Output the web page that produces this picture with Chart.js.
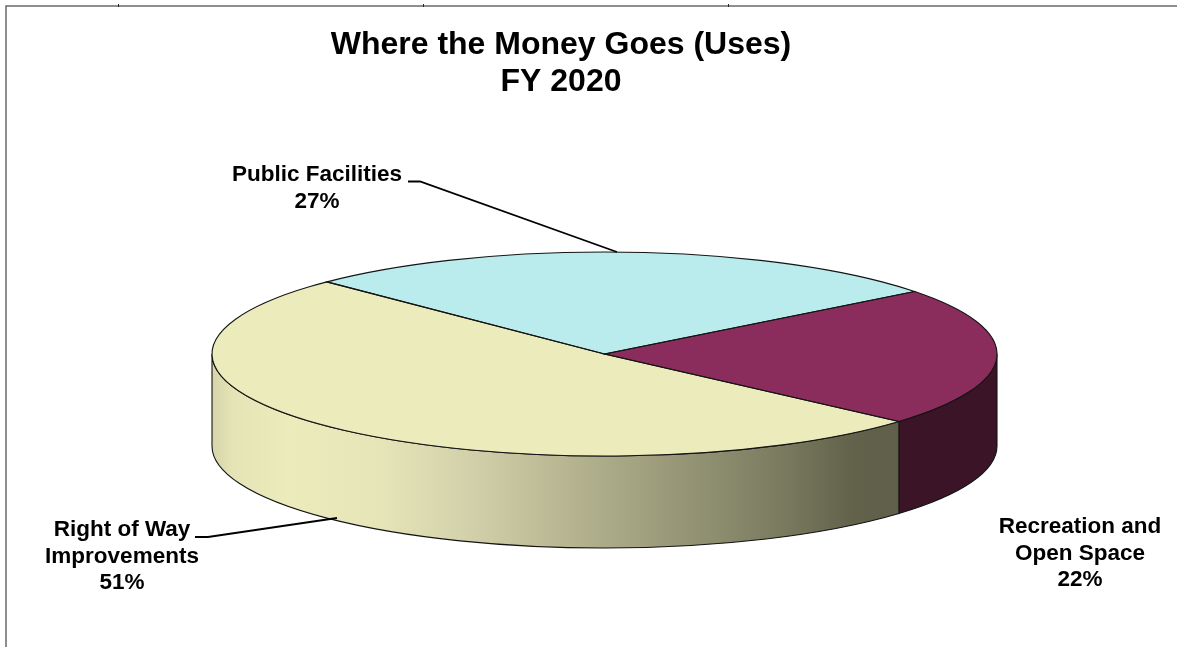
<!DOCTYPE html>
<html>
<head>
<meta charset="utf-8">
<title>Where the Money Goes (Uses) FY 2020</title>
<script src="https://cdn.jsdelivr.net/npm/chart.js@4"></script>
<style>
    html, body { margin: 0; padding: 0; background: #fff; overflow: hidden; }
    canvas { display: block; }
</style>
</head>
<body>
<canvas id="pie" width="1177" height="647"></canvas>
<script>
// chart data
const categories = ['Public Facilities', 'Recreation and Open Space', 'Right of Way Improvements'];
const labelLines = [['Public Facilities'], ['Recreation and', 'Open Space'], ['Right of Way', 'Improvements']];
const values = [27, 22, 51];
const titleLines = ['Where the Money Goes (Uses)', 'FY 2020'];

// slice colours
const topColors = ['#bbeced', '#8b2d5c', '#ecebbc'];
const sideColors = ['#5e7677', '#3b1428', null];

// shape of the tilted disc
const disc = { cx: 604.5, cy: 354, rx: 392.5, ry: 102, depth: 92 };

// label anchors and leader lines
const labelCenters = [[317, 175], [1080, 527], [122, 530]];
const leaders = [
    [[408, 181.5], [420, 181.5], [617, 252]],
    null,
    [[195, 537], [208, 537], [337, 518]]
];
const frameTicks = [118, 423, 728];

function rimGradient(ctx) {
    const g = ctx.createLinearGradient(212, 0, 898, 0);
    g.addColorStop(0, '#d6d4ab');
    g.addColorStop(0.03, '#e5e4b6');
    g.addColorStop(0.114, '#ecebbc');
    g.addColorStop(0.245, '#e6e5b8');
    g.addColorStop(0.39, '#cfcea8');
    g.addColorStop(0.536, '#b3b28e');
    g.addColorStop(0.68, '#979778');
    g.addColorStop(0.828, '#7b7b60');
    g.addColorStop(0.93, '#63634c');
    g.addColorStop(1, '#5f5f4a');
    return g;
}

function rimPath(ctx, a0, a1) {
    ctx.beginPath();
    ctx.ellipse(disc.cx, disc.cy, disc.rx, disc.ry, 0, a0, a1);
    ctx.ellipse(disc.cx, disc.cy + disc.depth, disc.rx, disc.ry, 0, a1, a0, true);
    ctx.closePath();
}

// squashes the library's round pie into the top face of the disc
const tiltPlugin = {
    id: 'tilt',
    beforeDatasetsDraw(chart) {
        const ctx = chart.ctx;
        const arcs = chart.getDatasetMeta(0).data;
        const full = Math.PI * 2;

        // rim first, only the part facing the viewer
        arcs.forEach((arc, i) => {
            let a0 = arc.startAngle, a1 = arc.endAngle;
            // try the turn that overlaps the front half
            for (const shift of [-full, 0, full]) {
                const s = Math.max(a0 + shift, 0), e = Math.min(a1 + shift, Math.PI);
                if (e <= s) continue;
                rimPath(ctx, s, e);
                ctx.fillStyle = sideColors[i] || rimGradient(ctx);
                ctx.fill();
                ctx.strokeStyle = '#141414';
                ctx.lineWidth = 1.1;
                ctx.stroke();
            }
        });

        const first = arcs[0];
        const R = first.outerRadius;
        ctx.save();
        ctx.translate(disc.cx, disc.cy);
        ctx.scale(disc.rx / R, disc.ry / R);
        ctx.translate(-first.x, -first.y);
    },
    afterDatasetsDraw(chart) {
        const ctx = chart.ctx;
        ctx.restore();
        // outlines drawn unscaled so the line stays even all round
        chart.getDatasetMeta(0).data.forEach(arc => {
            ctx.beginPath();
            ctx.moveTo(disc.cx, disc.cy);
            ctx.ellipse(disc.cx, disc.cy, disc.rx, disc.ry, 0, arc.startAngle, arc.endAngle);
            ctx.closePath();
            ctx.strokeStyle = '#141414';
            ctx.lineWidth = 1.1;
            ctx.stroke();
        });
    }
};

// frame, slice labels and leader lines
const annotationPlugin = {
    id: 'sliceLabels',
    beforeDraw(chart) {
        const ctx = chart.ctx;
        ctx.save();
        ctx.strokeStyle = '#6a6a6a';
        ctx.lineWidth = 1.5;
        ctx.beginPath();
        ctx.moveTo(6, 647);
        ctx.lineTo(6, 6);
        ctx.lineTo(1177, 6);
        ctx.stroke();
        ctx.strokeStyle = '#222';
        ctx.lineWidth = 1;
        frameTicks.forEach(x => {
            ctx.beginPath();
            ctx.moveTo(x + 0.5, 4);
            ctx.lineTo(x + 0.5, 7);
            ctx.stroke();
        });
        ctx.restore();
    },
    afterDraw(chart) {
        const ctx = chart.ctx;
        ctx.save();
        ctx.fillStyle = '#000';
        ctx.font = 'bold 22.5px "Liberation Sans", Arial, sans-serif';
        ctx.textAlign = 'center';
        ctx.textBaseline = 'middle';
        categories.forEach((name, i) => {
            const lines = labelLines[i].concat(values[i] + '%');
            lines.forEach((line, n) => {
                ctx.fillText(line, labelCenters[i][0], labelCenters[i][1] + n * 26.5);
            });
            if (leaders[i]) {
                ctx.beginPath();
                leaders[i].forEach((p, n) => n ? ctx.lineTo(p[0], p[1]) : ctx.moveTo(p[0], p[1]));
                ctx.strokeStyle = '#000';
                ctx.lineWidth = 1.8;
                ctx.stroke();
            }
        });
        ctx.restore();
    }
};

new Chart(document.getElementById('pie'), {
    type: 'pie',
    data: {
        labels: categories,
        datasets: [{
            data: values,
            backgroundColor: topColors,
            borderWidth: 0
        }]
    },
    options: {
        responsive: false,
        animation: false,
        rotation: -45,
        layout: { padding: { right: 55 } },
        plugins: {
            legend: { display: false },
            tooltip: { enabled: false },
            title: {
                display: true,
                text: titleLines,
                color: '#000',
                font: { family: '"Liberation Sans", Arial, sans-serif', size: 32, weight: 'bold', lineHeight: 1.15 },
                padding: { top: 27, bottom: 10 }
            }
        }
    },
    plugins: [annotationPlugin, tiltPlugin]
});
</script>
</body>
</html>
